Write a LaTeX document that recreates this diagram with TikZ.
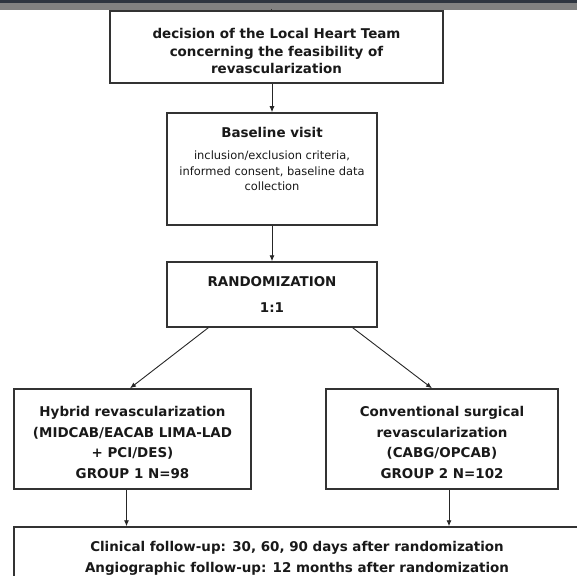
\documentclass[tikz,border=0pt]{standalone}
\usepackage{fontspec}
\setmainfont{DejaVu Sans}
\usetikzlibrary{arrows,arrows.meta,calc}
\definecolor{edgegray}{HTML}{333333}
\definecolor{bardark}{HTML}{2E3540}
\definecolor{bargray}{HTML}{818181}
\tikzset{
    block/.style = {draw=edgegray, rectangle, line width=1.5bp, fill=white,
        inner sep=0pt, align=center, text=black!90,
        font=\bfseries\fontsize{13.5}{20.5}\selectfont},
    arrow/.style = {draw=black!85, ->, line width=0.9bp},
}
\newcommand{\smalltext}{\mdseries\fontsize{11.5}{15.5}\selectfont}
\newcommand{\topgap}{\rule{0pt}{10.3bp}}

\begin{document}
\begin{tikzpicture}[auto, x=1bp, y=-1bp, >={Latex[length=6bp,width=5bp]}]
        \useasboundingbox (0,0) rectangle (577,576);
        \clip (0,0) rectangle (577,576);
        % header strip
        \fill [bardark] (0,0) rectangle (577,3);
        \fill [bargray] (0,3) rectangle (577,10);
        \node [block, minimum width=333bp, minimum height=72bp, name=decision] at (276.5,47)
            {\topgap\\[-12.5bp]decision of the Local Heart Team\\[-2.5bp]concerning the feasibility of\\[-2.5bp]revascularization};
        \coordinate (stub) at (271,9);
        \draw [draw=edgegray, line width=1bp] (stub) -- (stub |- decision.north);
        \node [block, below of=decision, node distance=122bp, xshift=-4.5bp,
            minimum width=210bp, minimum height=112bp, name=baseline]
            {Baseline visit\\[2bp]\smalltext inclusion/exclusion criteria,\\[-5bp]\smalltext informed consent, baseline data\\[-5.5bp]\smalltext collection\\[0bp]~};
        \draw [arrow] (decision.south -| baseline.north) -- (baseline);
        \node [block, below of=baseline, node distance=125.5bp,
            minimum width=210bp, minimum height=65bp, name=random]
            {RANDOMIZATION\\[5.5bp]1:1};
        \draw [arrow] (baseline) -- (random);
        \node [block, below of=random, node distance=144.5bp, xshift=-139.5bp,
            minimum width=237bp, minimum height=100bp, name=hybrid]
            {\topgap\\[-13.5bp]Hybrid revascularization\\(MIDCAB/EACAB LIMA-LAD\\+ PCI/DES)\\GROUP 1 N=98};
        \node [block, below of=random, node distance=144.5bp, xshift=170bp,
            minimum width=232bp, minimum height=100bp, name=conv]
            {\topgap\\[-13.5bp]Conventional surgical\\revascularization\\(CABG/OPCAB)\\GROUP 2 N=102};
        \draw [arrow] ([xshift=42bp]random.south west) -- ([xshift=-2.5bp]hybrid.north);
        \draw [arrow] ([xshift=-25bp]random.south east) -- ([xshift=-10bp]conv.north);
        \node [block, below of=random, node distance=264bp, xshift=25bp,
            minimum width=566bp, minimum height=63bp, name=followup]
            {Clinical follow-up: 30, 60, 90 days after randomization\\Angiographic follow-up: 12 months after randomization};
        \draw [arrow] ([xshift=-6bp]hybrid.south) -- ([xshift=-6bp]hybrid.south |- followup.north);
        \draw [arrow] ([xshift=7bp]conv.south) -- ([xshift=7bp]conv.south |- followup.north);
\end{tikzpicture}
\end{document}
